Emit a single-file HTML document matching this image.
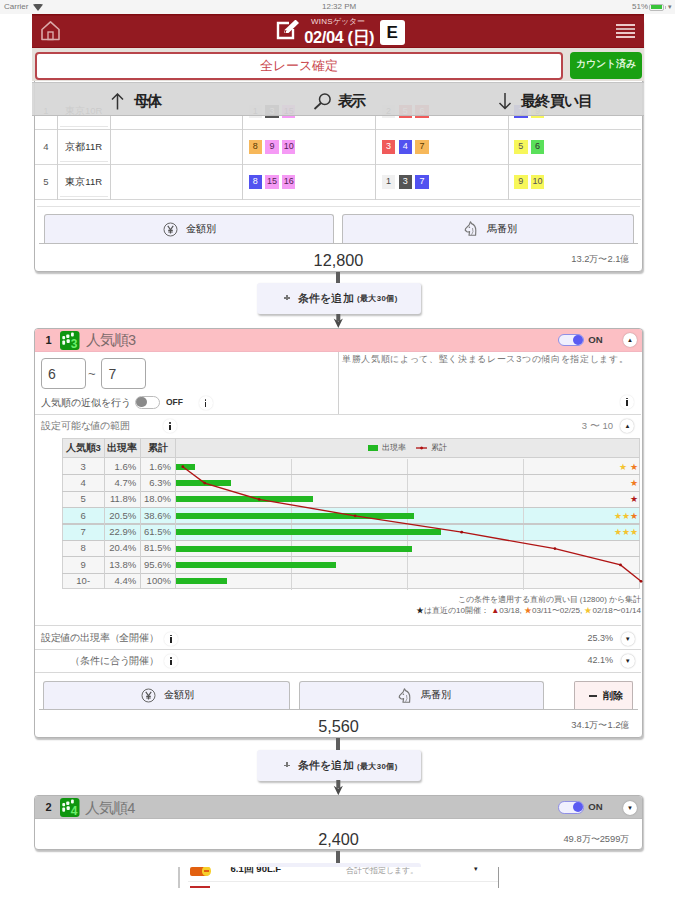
<!DOCTYPE html>
<html><head><meta charset="utf-8"><style>
*{box-sizing:border-box;margin:0;padding:0}
html,body{width:675px;height:900px;overflow:hidden;background:#fff;font-family:"Liberation Sans",sans-serif;color:#333}
.a{position:absolute}
#status{left:0;top:0;width:675px;height:14px;background:#f5f5f5;font-size:8px;color:#777;z-index:7}
#hdr{z-index:6;left:32px;top:13.8px;width:612px;height:33.9px;background:#931a21;box-shadow:inset 0 1.5px 0 #7f0b10, inset 0 -1px 0 #880f16}
#sub{z-index:6;left:32px;top:47.7px;width:612px;height:33.8px;background:#e5e0db}
#tool{left:32px;top:81.5px;width:612px;height:34.2px;background:rgba(214,214,214,0.93);border-top:1.5px solid #c4c4c4;border-bottom:1px solid #bdbdbd;z-index:5}
.card{position:absolute;background:#fff;border:1px solid #b4b4b4;border-radius:4px;box-shadow:1px 1.5px 1.5px rgba(0,0,0,0.25)}
.vl{position:absolute;width:1px;background:#d8d8d8}
.hl{position:absolute;height:1px;background:#dcdcdc}
.nb{position:absolute;width:13.5px;height:13.5px;font-size:9px;line-height:13.5px;text-align:center;color:#333}
.btn{position:absolute;background:#f1f1fb;border:1px solid #bdbdbd;border-bottom:none;border-radius:3px 3px 0 0;font-size:9.5px;font-weight:bold;color:#444;text-align:center}
.conn{position:absolute;left:336.3px;width:4px;background:#5e5e5e}
.add{position:absolute;left:256.7px;width:164px;height:30.5px;background:#f2f2fb;border-radius:3px;box-shadow:1px 1.5px 2px rgba(0,0,0,0.25);font-size:12px;color:#333}
.t{position:absolute;white-space:nowrap}
.ic{position:absolute;width:14px;height:14px;border-radius:50%;background:#fff;box-shadow:0 0 1.5px rgba(0,0,0,0.35);font-size:10px;line-height:14px;text-align:center;font-weight:bold;color:#222}
</style></head><body>
<div id="root" class="a" style="left:0;top:0;width:675px;height:900px">
<div id="status" class="a">
  <div class="t" style="left:4px;top:2px;line-height:10px">Carrier</div>
  <svg class="a" style="left:33px;top:3.5px" width="10" height="7" viewBox="0 0 10 7"><path d="M0 0.5 Q5 -1 10 0.5 L5 7 Z" fill="#555"/></svg>
  <div class="t" style="left:322px;top:2px;line-height:10px">12:32 PM</div>
  <div class="t" style="left:632px;top:2px;line-height:10px">51%</div>
  <div class="a" style="left:649px;top:3.5px;width:15px;height:7px;border:1px solid #bbb;border-radius:2px;padding:0.5px"><div style="width:11px;height:4px;background:#3ac43a"></div></div>
  <div class="a" style="left:664.5px;top:5.5px;width:1.3px;height:3px;background:#bbb"></div>
  <div class="t" style="left:668px;top:2px;line-height:10px;font-size:7px">&#9662;</div>
</div>
<div class="card" style="left:34px;top:20px;width:608.5px;height:252.2px"></div>
<div class="hl" style="left:35px;top:128.80px;width:606.00px;height:1px;background:#d6d6d6"></div>
<div class="hl" style="left:35px;top:164.20px;width:606.00px;height:1px;background:#d6d6d6"></div>
<div class="hl" style="left:35px;top:199.10px;width:606.00px;height:1px;background:#d6d6d6"></div>
<div class="hl" style="left:37px;top:206.40px;width:603.00px;height:1px;background:#e2e2e2"></div>
<div class="vl" style="left:56.80px;top:115px;height:84.60px;width:1px;background:#d0d0d0"></div>
<div class="vl" style="left:109.70px;top:115px;height:84.60px;width:1px;background:#d0d0d0"></div>
<div class="vl" style="left:241.90px;top:115px;height:84.60px;width:1px;background:#d0d0d0"></div>
<div class="vl" style="left:375.10px;top:115px;height:84.60px;width:1px;background:#d0d0d0"></div>
<div class="vl" style="left:507.70px;top:115px;height:84.60px;width:1px;background:#d0d0d0"></div>
<div class="hl" style="left:60px;top:125.50px;width:48.00px;height:1px;background:#e6e6e6"></div>
<div class="hl" style="left:60px;top:160.70px;width:48.00px;height:1px;background:#e6e6e6"></div>
<div class="hl" style="left:60px;top:195.70px;width:48.00px;height:1px;background:#e6e6e6"></div>
<div class="t" style="left:35.00px;width:22px;top:105.33px;font-size:9.5px;line-height:12.35px;color:#555;text-align:center;">1</div>
<div class="t" style="left:57.20px;width:53px;top:105.33px;font-size:9.5px;line-height:12.35px;color:#333;text-align:center;">東京10R</div>
<div class="nb" style="left:248.5px;top:104.8px;background:#f0f0f0;color:#444">1</div>
<div class="nb" style="left:265.2px;top:104.8px;background:#555;color:#fff">3</div>
<div class="nb" style="left:281.9px;top:104.8px;background:#f59af5;color:#552255">15</div>
<div class="nb" style="left:381.8px;top:104.8px;background:#f0f0f0;color:#444">2</div>
<div class="nb" style="left:398.5px;top:104.8px;background:#f05a5a;color:#fff">5</div>
<div class="nb" style="left:415.2px;top:104.8px;background:#f05a5a;color:#fff">6</div>
<div class="nb" style="left:514.1px;top:104.8px;background:#5252f0;color:#fff">7</div>
<div class="nb" style="left:530.8px;top:104.8px;background:#f7f75a;color:#555">9</div>
<div class="t" style="left:35.00px;width:22px;top:140.82px;font-size:9.5px;line-height:12.35px;color:#555;text-align:center;">4</div>
<div class="t" style="left:57.20px;width:53px;top:140.82px;font-size:9.5px;line-height:12.35px;color:#333;text-align:center;">京都11R</div>
<div class="nb" style="left:248.5px;top:140.2px;background:#f7b85a;color:#5a3a00">8</div>
<div class="nb" style="left:265.2px;top:140.2px;background:#f59af5;color:#552255">9</div>
<div class="nb" style="left:281.9px;top:140.2px;background:#f59af5;color:#552255">10</div>
<div class="nb" style="left:381.8px;top:140.2px;background:#f05a5a;color:#fff">3</div>
<div class="nb" style="left:398.5px;top:140.2px;background:#5252f0;color:#fff">4</div>
<div class="nb" style="left:415.2px;top:140.2px;background:#f7b85a;color:#5a3a00">7</div>
<div class="nb" style="left:514.1px;top:140.2px;background:#f7f75a;color:#555">5</div>
<div class="nb" style="left:530.8px;top:140.2px;background:#5ae05a;color:#333">6</div>
<div class="t" style="left:35.00px;width:22px;top:175.82px;font-size:9.5px;line-height:12.35px;color:#555;text-align:center;">5</div>
<div class="t" style="left:57.20px;width:53px;top:175.82px;font-size:9.5px;line-height:12.35px;color:#333;text-align:center;">東京11R</div>
<div class="nb" style="left:248.5px;top:175.2px;background:#5252f0;color:#fff">8</div>
<div class="nb" style="left:265.2px;top:175.2px;background:#f59af5;color:#552255">15</div>
<div class="nb" style="left:281.9px;top:175.2px;background:#f59af5;color:#552255">16</div>
<div class="nb" style="left:381.8px;top:175.2px;background:#f0f0f0;color:#444">1</div>
<div class="nb" style="left:398.5px;top:175.2px;background:#555;color:#fff">3</div>
<div class="nb" style="left:415.2px;top:175.2px;background:#5252f0;color:#fff">7</div>
<div class="nb" style="left:514.1px;top:175.2px;background:#f7f75a;color:#555">9</div>
<div class="nb" style="left:530.8px;top:175.2px;background:#f7f75a;color:#555">10</div>
<div class="btn" style="left:43.5px;top:214px;width:290.0px;height:30.0px"></div>
<svg class="a" style="left:163.0px;top:221.5px" width="15" height="15" viewBox="0 0 15 15"><circle cx="7.5" cy="7.5" r="6.5" fill="none" stroke="#666" stroke-width="1"/><path d="M4.8 3.8 L7.5 7.8 L10.2 3.8 M7.5 7.8 V11.6 M5.2 8.3 H9.8 M5.2 10 H9.8" fill="none" stroke="#555" stroke-width="1.2"/></svg>
<div class="t" style="left:186.2px;top:222.63px;font-size:9.8px;line-height:12.74px;color:#222;">金額別</div>
<div class="btn" style="left:342px;top:214px;width:291.5px;height:30.0px"></div>
<svg class="a" style="left:463.75px;top:221.4px" width="13" height="15" viewBox="0 0 13 15"><path d="M6.5 0.8 L7.6 2.6 Q11.8 4.2 11.8 9.5 L11.6 14.2 L5 14.2 L5.6 10.6 Q4.5 11.2 3 10.8 L1.2 9.2 L1.6 7.6 L5.2 3.8 Z" fill="none" stroke="#777" stroke-width="1.15" stroke-linejoin="round"/><circle cx="5.4" cy="6.2" r="0.8" fill="#777"/><path d="M7.5 13.8 Q10 11 8.5 7" fill="none" stroke="#888" stroke-width="0.8"/></svg>
<div class="t" style="left:486.55px;top:222.63px;font-size:9.8px;line-height:12.74px;color:#222;">馬番別</div>
<div class="hl" style="left:39px;top:243.10px;width:599.00px;height:1px;background:#bdbdbd"></div>
<div class="t" style="left:188.50px;width:300px;top:250.01px;font-size:16.3px;line-height:21.19px;color:#333;text-align:center;">12,800</div>
<div class="t" style="right:45.50px;top:253.49px;font-size:9.4px;line-height:12.22px;color:#666;text-align:right;">13.2万〜2.1億</div>
<div class="conn" style="top:272px;height:11.0px"></div>
<div class="add" style="top:283px"></div>
<div class="a" style="left:284.2px;top:297.4px;width:5.6px;height:1.3px;background:#777"></div>
<div class="a" style="left:286.35px;top:294.5px;width:1.3px;height:5.6px;background:#777"></div>
<div class="t" style="left:297.6px;top:290.65px;font-size:11.3px;line-height:14.69px;color:#1a1a1a;letter-spacing:0.3px;-webkit-text-stroke:0.25px #1a1a1a">条件を追加</div>
<div class="t" style="left:357px;top:294.43px;font-size:7.8px;line-height:10.14px;color:#333;font-weight:bold;letter-spacing:0.4px">(最大30個)</div>
<svg class="a" style="left:333px;top:314px" width="11" height="14.0" viewBox="0 0 11 14.0"><rect x="3.3" y="0" width="4" height="7.0" fill="#5a5a5a"/><path d="M0.7 4.5 L5.3 7.5 L9.9 4.5 L5.3 14.0 Z" fill="#4a4a4a"/></svg>
<div class="card" style="left:34px;top:327.7px;width:608.5px;height:410px"></div>
<div class="a" style="left:35px;top:328.7px;width:606.5px;height:23px;background:#fcbfc4;border-radius:3px 3px 0 0;border-bottom:1px solid #f3b6c0"></div>
<div class="t" style="left:45.5px;top:332.85px;font-size:11px;line-height:14.30px;color:#222;font-weight:bold">1</div>
<svg class="a" style="left:60.1px;top:331px" width="19.5" height="19" viewBox="0 0 19.5 19"><rect x="0" y="0" width="19.5" height="19" rx="3" fill="#0f960f"/><g fill="#f4fff4"><rect x="2.3" y="5" width="2.8" height="3.2" rx="1"/><rect x="2.3" y="9.6" width="2.8" height="4.2" rx="1"/><rect x="6.2" y="3.5" width="3.2" height="3.6" rx="1"/><rect x="6.6" y="8.3" width="3.2" height="3.8" rx="1"/><rect x="11" y="1.5" width="2.8" height="4" rx="1"/></g><text x="14.2" y="17" font-size="12" font-weight="bold" fill="#6cf06c" text-anchor="middle" font-family="Liberation Sans">3</text></svg>
<div class="t" style="left:86px;top:331.38px;font-size:14.5px;line-height:18.85px;color:#7d6a6b;letter-spacing:-1px">人気順3</div>
<div class="a" style="left:558.4px;top:333.9px;width:25.4px;height:12.4px;border-radius:6.2px;background:#f0f0fe;border:1px solid #8f8fe6"></div>
<div class="a" style="left:573.0px;top:335.1px;width:10px;height:10px;border-radius:50%;background:#5b5bf2"></div>
<div class="t" style="left:588.2px;top:333.96px;font-size:9.6px;line-height:12.48px;color:#3a3a3a;font-weight:bold">ON</div>
<div class="ic" style="left:623.0px;top:333.2px;font-size:6px">&#9650;</div>
<div class="a" style="left:40.6px;top:358.2px;width:45.7px;height:30.4px;border:1.2px solid #a8a8a8;border-radius:4px;background:#fff"></div>
<div class="a" style="left:100.6px;top:358.2px;width:45.6px;height:30.4px;border:1.2px solid #a8a8a8;border-radius:4px;background:#fff"></div>
<div class="t" style="left:48px;top:364.70px;font-size:14px;line-height:18.20px;color:#444;">6</div>
<div class="t" style="left:108.6px;top:364.70px;font-size:14px;line-height:18.20px;color:#444;">7</div>
<div class="t" style="left:88px;top:365.85px;font-size:13px;line-height:16.90px;color:#666;">~</div>
<div class="t" style="left:40.7px;top:397.06px;font-size:9.6px;line-height:12.48px;color:#555;">人気順の近似を行う</div>
<div class="a" style="left:134.8px;top:395.6px;width:25px;height:13.5px;border-radius:6.8px;background:#fff;border:1px solid #bbb"></div>
<div class="a" style="left:136.3px;top:397.2px;width:10.3px;height:10.3px;border-radius:50%;background:#8a8a8a"></div>
<div class="t" style="left:166px;top:397.28px;font-size:8.5px;line-height:11.05px;color:#333;font-weight:bold">OFF</div>
<div class="ic" style="left:198.5px;top:396.0px;box-shadow:0 0 1.5px rgba(0,0,0,0.15)"><div class="a" style="left:6.2px;top:3px;width:1.6px;height:1.6px;background:#222;border-radius:50%"></div><div class="a" style="left:6.2px;top:5.5px;width:1.6px;height:5.5px;background:#222"></div></div>
<div class="vl" style="left:338.00px;top:351.6px;height:62.60px;width:1px;background:#d0d0d0"></div>
<div class="t" style="left:342.1px;top:354.22px;font-size:9.2px;line-height:11.96px;color:#777;letter-spacing:0.67px">単勝人気順によって、堅く決まるレース3つの傾向を指定します。</div>
<div class="ic" style="left:620.3px;top:394.5px;box-shadow:0 0 1.5px rgba(0,0,0,0.15)"><div class="a" style="left:6.2px;top:3px;width:1.6px;height:1.6px;background:#222;border-radius:50%"></div><div class="a" style="left:6.2px;top:5.5px;width:1.6px;height:5.5px;background:#222"></div></div>
<div class="hl" style="left:35px;top:413.70px;width:606.00px;height:1px;background:#d8d8d8"></div>
<div class="t" style="left:41.2px;top:420.12px;font-size:9.5px;line-height:12.35px;color:#777;letter-spacing:-0.15px">設定可能な値の範囲</div>
<div class="ic" style="left:163.2px;top:419.3px;box-shadow:0 0 1.5px rgba(0,0,0,0.15)"><div class="a" style="left:6.2px;top:3px;width:1.6px;height:1.6px;background:#222;border-radius:50%"></div><div class="a" style="left:6.2px;top:5.5px;width:1.6px;height:5.5px;background:#222"></div></div>
<div class="t" style="right:62.00px;top:419.62px;font-size:9.5px;line-height:12.35px;color:#888;text-align:right;">3 〜 10</div>
<div class="ic" style="left:620.4px;top:418.8px;font-size:6px">&#9650;</div>
<div class="a" style="left:62.3px;top:437.7px;width:577.7px;height:151.8px;background:#f6f6f6;border:1px solid #d2d2d2"></div>
<div class="a" style="left:62.3px;top:437.7px;width:577.7px;height:20.8px;background:#e9e9e9;border:1px solid #d2d2d2;border-bottom:1.5px solid #cfcfcf"></div>
<div class="a" style="left:63.3px;top:507.62px;width:575.7px;height:16.38px;background:#d9f9f9"></div>
<div class="a" style="left:63.3px;top:524.00px;width:575.7px;height:16.38px;background:#d9f9f9"></div>
<div class="vl" style="left:291.00px;top:458.5px;height:131.00px;width:1px;background:#d6d6d6"></div>
<div class="vl" style="left:407.40px;top:458.5px;height:131.00px;width:1px;background:#d6d6d6"></div>
<div class="vl" style="left:523.40px;top:458.5px;height:131.00px;width:1px;background:#d6d6d6"></div>
<div class="t" style="left:63.20px;width:40px;top:460.51px;font-size:9.5px;line-height:12.35px;color:#666;text-align:center;">3</div>
<div class="t" style="right:538.80px;top:460.51px;font-size:9.5px;line-height:12.35px;color:#666;text-align:right;">1.6%</div>
<div class="t" style="right:504.10px;top:460.51px;font-size:9.5px;line-height:12.35px;color:#666;text-align:right;">1.6%</div>
<div class="a" style="left:176.4px;top:463.69px;width:18.5px;height:6px;background:#22b822"></div>
<div class="hl" style="left:62.3px;top:474.27px;width:577.70px;height:1.2px;background:#c9c9c9"></div>
<div class="t" style="left:63.20px;width:40px;top:476.89px;font-size:9.5px;line-height:12.35px;color:#666;text-align:center;">4</div>
<div class="t" style="right:538.80px;top:476.89px;font-size:9.5px;line-height:12.35px;color:#666;text-align:right;">4.7%</div>
<div class="t" style="right:504.10px;top:476.89px;font-size:9.5px;line-height:12.35px;color:#666;text-align:right;">6.3%</div>
<div class="a" style="left:176.4px;top:480.06px;width:54.4px;height:6px;background:#22b822"></div>
<div class="hl" style="left:62.3px;top:490.65px;width:577.70px;height:1.2px;background:#c9c9c9"></div>
<div class="t" style="left:63.20px;width:40px;top:493.26px;font-size:9.5px;line-height:12.35px;color:#666;text-align:center;">5</div>
<div class="t" style="right:538.80px;top:493.26px;font-size:9.5px;line-height:12.35px;color:#666;text-align:right;">11.8%</div>
<div class="t" style="right:504.10px;top:493.26px;font-size:9.5px;line-height:12.35px;color:#666;text-align:right;">18.0%</div>
<div class="a" style="left:176.4px;top:496.44px;width:136.5px;height:6px;background:#22b822"></div>
<div class="hl" style="left:62.3px;top:507.02px;width:577.70px;height:1.2px;background:#c9c9c9"></div>
<div class="t" style="left:63.20px;width:40px;top:509.64px;font-size:9.5px;line-height:12.35px;color:#666;text-align:center;">6</div>
<div class="t" style="right:538.80px;top:509.64px;font-size:9.5px;line-height:12.35px;color:#666;text-align:right;">20.5%</div>
<div class="t" style="right:504.10px;top:509.64px;font-size:9.5px;line-height:12.35px;color:#666;text-align:right;">38.6%</div>
<div class="a" style="left:176.4px;top:512.81px;width:237.2px;height:6px;background:#22b822"></div>
<div class="hl" style="left:62.3px;top:523.40px;width:577.70px;height:1.2px;background:#c9c9c9"></div>
<div class="t" style="left:63.20px;width:40px;top:526.01px;font-size:9.5px;line-height:12.35px;color:#666;text-align:center;">7</div>
<div class="t" style="right:538.80px;top:526.01px;font-size:9.5px;line-height:12.35px;color:#666;text-align:right;">22.9%</div>
<div class="t" style="right:504.10px;top:526.01px;font-size:9.5px;line-height:12.35px;color:#666;text-align:right;">61.5%</div>
<div class="a" style="left:176.4px;top:529.19px;width:265.0px;height:6px;background:#22b822"></div>
<div class="hl" style="left:62.3px;top:539.77px;width:577.70px;height:1.2px;background:#c9c9c9"></div>
<div class="t" style="left:63.20px;width:40px;top:542.39px;font-size:9.5px;line-height:12.35px;color:#666;text-align:center;">8</div>
<div class="t" style="right:538.80px;top:542.39px;font-size:9.5px;line-height:12.35px;color:#666;text-align:right;">20.4%</div>
<div class="t" style="right:504.10px;top:542.39px;font-size:9.5px;line-height:12.35px;color:#666;text-align:right;">81.5%</div>
<div class="a" style="left:176.4px;top:545.56px;width:236.0px;height:6px;background:#22b822"></div>
<div class="hl" style="left:62.3px;top:556.15px;width:577.70px;height:1.2px;background:#c9c9c9"></div>
<div class="t" style="left:63.20px;width:40px;top:558.76px;font-size:9.5px;line-height:12.35px;color:#666;text-align:center;">9</div>
<div class="t" style="right:538.80px;top:558.76px;font-size:9.5px;line-height:12.35px;color:#666;text-align:right;">13.8%</div>
<div class="t" style="right:504.10px;top:558.76px;font-size:9.5px;line-height:12.35px;color:#666;text-align:right;">95.6%</div>
<div class="a" style="left:176.4px;top:561.94px;width:159.7px;height:6px;background:#22b822"></div>
<div class="hl" style="left:62.3px;top:572.52px;width:577.70px;height:1.2px;background:#c9c9c9"></div>
<div class="t" style="left:63.20px;width:40px;top:575.14px;font-size:9.5px;line-height:12.35px;color:#666;text-align:center;">10-</div>
<div class="t" style="right:538.80px;top:575.14px;font-size:9.5px;line-height:12.35px;color:#666;text-align:right;">4.4%</div>
<div class="t" style="right:504.10px;top:575.14px;font-size:9.5px;line-height:12.35px;color:#666;text-align:right;">100%</div>
<div class="a" style="left:176.4px;top:578.31px;width:50.9px;height:6px;background:#22b822"></div>
<div class="vl" style="left:103.60px;top:437.7px;height:151.80px;width:1px;background:#d0d0d0"></div>
<div class="vl" style="left:140.20px;top:437.7px;height:151.80px;width:1px;background:#d0d0d0"></div>
<div class="vl" style="left:174.90px;top:437.7px;height:151.80px;width:1px;background:#d0d0d0"></div>
<div class="t" style="left:62.20px;width:42px;top:441.82px;font-size:9.5px;line-height:12.35px;color:#333;text-align:center;font-weight:bold">人気順3</div>
<div class="t" style="left:102.40px;width:40px;top:441.82px;font-size:9.5px;line-height:12.35px;color:#333;text-align:center;font-weight:bold">出現率</div>
<div class="t" style="left:138.05px;width:40px;top:441.82px;font-size:9.5px;line-height:12.35px;color:#333;text-align:center;font-weight:bold">累計</div>
<div class="a" style="left:367.8px;top:445.4px;width:10.7px;height:5.4px;background:#22b822"></div>
<div class="t" style="left:381.9px;top:442.97px;font-size:8.2px;line-height:10.66px;color:#555;">出現率</div>
<svg class="a" style="left:416.3px;top:445px" width="11.2" height="6" viewBox="0 0 11.2 6"><path d="M0 3 H11.2" stroke="#b01010" stroke-width="1.3"/><circle cx="5.6" cy="3" r="1.5" fill="#b01010"/></svg>
<div class="t" style="left:431.1px;top:442.97px;font-size:8.2px;line-height:10.66px;color:#555;">累計</div>
<svg class="a" style="left:0;top:0;z-index:1" width="675" height="900"><path d="M182.8 466.7 L204.7 483.1 L259.2 499.4 L355.1 515.8 L461.7 532.2 L554.9 548.6 L620.5 564.9 L641.0 581.3" fill="none" stroke="#b01414" stroke-width="1.35"/><circle cx="182.8" cy="466.7" r="1.4" fill="#a00c0c"/><circle cx="204.7" cy="483.1" r="1.4" fill="#a00c0c"/><circle cx="259.2" cy="499.4" r="1.4" fill="#a00c0c"/><circle cx="355.1" cy="515.8" r="1.4" fill="#a00c0c"/><circle cx="461.7" cy="532.2" r="1.4" fill="#a00c0c"/><circle cx="554.9" cy="548.6" r="1.4" fill="#a00c0c"/><circle cx="620.5" cy="564.9" r="1.4" fill="#a00c0c"/><circle cx="641.0" cy="581.3" r="1.4" fill="#a00c0c"/></svg>
<div class="t" style="left:619.0px;top:461.7px;font-size:8.5px;line-height:10px;color:#f4c430">&#9733;</div>
<div class="t" style="left:629.5px;top:461.7px;font-size:8.5px;line-height:10px;color:#f07a20">&#9733;</div>
<div class="t" style="left:629.5px;top:478.1px;font-size:8.5px;line-height:10px;color:#f07a20">&#9733;</div>
<div class="t" style="left:629.5px;top:494.4px;font-size:8.5px;line-height:10px;color:#b01818">&#9733;</div>
<div class="t" style="left:613.6px;top:510.8px;font-size:8.5px;line-height:10px;color:#f4c430">&#9733;</div>
<div class="t" style="left:621.6px;top:510.8px;font-size:8.5px;line-height:10px;color:#f4c430">&#9733;</div>
<div class="t" style="left:629.5px;top:510.8px;font-size:8.5px;line-height:10px;color:#f07a20">&#9733;</div>
<div class="t" style="left:613.6px;top:527.2px;font-size:8.5px;line-height:10px;color:#f4c430">&#9733;</div>
<div class="t" style="left:621.6px;top:527.2px;font-size:8.5px;line-height:10px;color:#f4c430">&#9733;</div>
<div class="t" style="left:629.5px;top:527.2px;font-size:8.5px;line-height:10px;color:#f4c430">&#9733;</div>
<div class="t" style="right:34.00px;top:594.70px;font-size:7.85px;line-height:10.21px;color:#666;text-align:right;">この条件を適用する直前の買い目 (12800) から集計</div>
<div class="t" style="right:34.00px;top:605.74px;font-size:8.1px;line-height:10.53px;color:#666;text-align:right;"><span style="color:#222">&#9733;</span>は直近の10開催： <span style="color:#b01818">&#9650;</span>03/18, <span style="color:#f07a20">&#9733;</span>03/11〜02/25, <span style="color:#f4c430">&#9733;</span>02/18〜01/14</div>
<div class="hl" style="left:35px;top:625.10px;width:606.00px;height:1px;background:#d8d8d8"></div>
<div class="t" style="left:40.7px;top:632.43px;font-size:9.5px;line-height:12.35px;color:#666;letter-spacing:-0.15px">設定値の出現率（全開催）</div>
<div class="ic" style="left:164.0px;top:631.6px;box-shadow:0 0 1.5px rgba(0,0,0,0.15)"><div class="a" style="left:6.2px;top:3px;width:1.6px;height:1.6px;background:#222;border-radius:50%"></div><div class="a" style="left:6.2px;top:5.5px;width:1.6px;height:5.5px;background:#222"></div></div>
<div class="t" style="right:62.00px;top:632.95px;font-size:9px;line-height:11.70px;color:#666;text-align:right;">25.3%</div>
<div class="ic" style="left:620.8px;top:631.8px;font-size:6px">&#9660;</div>
<div class="hl" style="left:35px;top:648.80px;width:606.00px;height:1px;background:#d8d8d8"></div>
<div class="t" style="right:516.00px;top:654.93px;font-size:9.5px;line-height:12.35px;color:#666;text-align:right;letter-spacing:-0.15px">（条件に合う開催）</div>
<div class="ic" style="left:164.0px;top:654.1px;box-shadow:0 0 1.5px rgba(0,0,0,0.15)"><div class="a" style="left:6.2px;top:3px;width:1.6px;height:1.6px;background:#222;border-radius:50%"></div><div class="a" style="left:6.2px;top:5.5px;width:1.6px;height:5.5px;background:#222"></div></div>
<div class="t" style="right:62.00px;top:655.35px;font-size:9px;line-height:11.70px;color:#666;text-align:right;">42.1%</div>
<div class="ic" style="left:620.8px;top:654.2px;font-size:6px">&#9660;</div>
<div class="hl" style="left:35px;top:672.00px;width:606.00px;height:1px;background:#d8d8d8"></div>
<div class="btn" style="left:43.3px;top:681.3px;width:246.5px;height:28.9px"></div>
<svg class="a" style="left:141.05px;top:688.25px" width="15" height="15" viewBox="0 0 15 15"><circle cx="7.5" cy="7.5" r="6.5" fill="none" stroke="#666" stroke-width="1"/><path d="M4.8 3.8 L7.5 7.8 L10.2 3.8 M7.5 7.8 V11.6 M5.2 8.3 H9.8 M5.2 10 H9.8" fill="none" stroke="#555" stroke-width="1.2"/></svg>
<div class="t" style="left:164.25px;top:689.38px;font-size:9.8px;line-height:12.74px;color:#222;">金額別</div>
<div class="btn" style="left:299.3px;top:681.3px;width:245.0px;height:28.9px"></div>
<svg class="a" style="left:397.79999999999995px;top:688.15px" width="13" height="15" viewBox="0 0 13 15"><path d="M6.5 0.8 L7.6 2.6 Q11.8 4.2 11.8 9.5 L11.6 14.2 L5 14.2 L5.6 10.6 Q4.5 11.2 3 10.8 L1.2 9.2 L1.6 7.6 L5.2 3.8 Z" fill="none" stroke="#777" stroke-width="1.15" stroke-linejoin="round"/><circle cx="5.4" cy="6.2" r="0.8" fill="#777"/><path d="M7.5 13.8 Q10 11 8.5 7" fill="none" stroke="#888" stroke-width="0.8"/></svg>
<div class="t" style="left:420.59999999999997px;top:689.38px;font-size:9.8px;line-height:12.74px;color:#222;">馬番別</div>
<div class="btn" style="left:574.2px;top:681.3px;width:59.3px;height:28.9px;background:#fdf1f1;border-color:#bdb3b3;border-radius:2px 2px 0 0"></div>
<div class="a" style="left:588.9px;top:695.0px;width:8px;height:1.6px;background:#333"></div>
<div class="t" style="left:602.85px;top:689.51px;font-size:9.6px;line-height:12.48px;color:#222;font-weight:bold">削除</div>
<div class="hl" style="left:39px;top:709.30px;width:599.00px;height:1px;background:#bdbdbd"></div>
<div class="t" style="left:188.50px;width:300px;top:715.50px;font-size:16.3px;line-height:21.19px;color:#333;text-align:center;">5,560</div>
<div class="t" style="right:45.50px;top:719.39px;font-size:9.4px;line-height:12.22px;color:#666;text-align:right;">34.1万〜1.2億</div>
<div class="conn" style="top:737.7px;height:12.6px"></div>
<div class="add" style="top:750.2px"></div>
<div class="a" style="left:284.2px;top:764.6px;width:5.6px;height:1.3px;background:#777"></div>
<div class="a" style="left:286.35px;top:761.7px;width:1.3px;height:5.6px;background:#777"></div>
<div class="t" style="left:297.6px;top:757.86px;font-size:11.3px;line-height:14.69px;color:#1a1a1a;letter-spacing:0.3px;-webkit-text-stroke:0.25px #1a1a1a">条件を追加</div>
<div class="t" style="left:357px;top:761.63px;font-size:7.8px;line-height:10.14px;color:#333;font-weight:bold;letter-spacing:0.4px">(最大30個)</div>
<svg class="a" style="left:333px;top:780.3px" width="11" height="15.3" viewBox="0 0 11 15.3"><rect x="3.3" y="0" width="4" height="8.3" fill="#5a5a5a"/><path d="M0.7 5.8 L5.3 8.8 L9.9 5.8 L5.3 15.3 Z" fill="#4a4a4a"/></svg>
<div class="card" style="left:34px;top:795.4px;width:608.5px;height:55px"></div>
<div class="a" style="left:35px;top:796.4px;width:606.5px;height:22.4px;background:#c4c4c4;border-radius:3px 3px 0 0;border-bottom:1px solid #b9b9b9"></div>
<div class="t" style="left:45.5px;top:800.35px;font-size:11px;line-height:14.30px;color:#222;font-weight:bold">2</div>
<svg class="a" style="left:60px;top:797.6px" width="19.5" height="19" viewBox="0 0 19.5 19"><rect x="0" y="0" width="19.5" height="19" rx="3" fill="#0f960f"/><g fill="#f4fff4"><rect x="2.3" y="5" width="2.8" height="3.2" rx="1"/><rect x="2.3" y="9.6" width="2.8" height="4.2" rx="1"/><rect x="6.2" y="3.5" width="3.2" height="3.6" rx="1"/><rect x="6.6" y="8.3" width="3.2" height="3.8" rx="1"/><rect x="11" y="1.5" width="2.8" height="4" rx="1"/></g><text x="14.2" y="17" font-size="12" font-weight="bold" fill="#6cf06c" text-anchor="middle" font-family="Liberation Sans">4</text></svg>
<div class="t" style="left:85.2px;top:798.88px;font-size:14.5px;line-height:18.85px;color:#777;letter-spacing:-1px">人気順4</div>
<div class="a" style="left:558.4px;top:801.2px;width:25.4px;height:12.4px;border-radius:6.2px;background:#f0f0fe;border:1px solid #8f8fe6"></div>
<div class="a" style="left:573.0px;top:802.4px;width:10px;height:10px;border-radius:50%;background:#5b5bf2"></div>
<div class="t" style="left:588.2px;top:801.26px;font-size:9.6px;line-height:12.48px;color:#3a3a3a;font-weight:bold">ON</div>
<div class="ic" style="left:623.0px;top:800.5px;font-size:6px">&#9660;</div>
<div class="t" style="left:188.50px;width:300px;top:829.00px;font-size:16.3px;line-height:21.19px;color:#333;text-align:center;">2,400</div>
<div class="t" style="right:45.50px;top:832.89px;font-size:9.4px;line-height:12.22px;color:#666;text-align:right;">49.8万〜2599万</div>
<div class="conn" style="top:850.5px;height:12.0px"></div>
<div class="a" style="left:256.7px;top:862.5px;width:164px;height:6px;background:#f0f0fa;border-radius:3px 3px 0 0"></div>
<div class="a" style="left:170px;top:866.8px;width:340px;height:34px;background:#fff;overflow:hidden"><div class="a" style="left:8.4px;top:0;width:1.4px;height:21px;background:#c8c8c8"></div><div class="a" style="left:327.8px;top:0;width:1.4px;height:21px;background:#9a9a9a"></div><div class="a" style="left:19.6px;top:0.6px;width:18px;height:8.3px;background:#e2600f;border-radius:2px"></div><div class="a" style="left:31.5px;top:-0.5px;width:9.5px;height:9.5px;background:#f7cf2a;border-radius:50%"></div><div class="a" style="left:33.5px;top:3.5px;width:5px;height:1.6px;background:#e2600f"></div><div class="a" style="left:20px;top:19.2px;width:20px;height:2.2px;background:#c02828"></div><div class="a" style="left:18px;top:14.6px;width:310px;height:1px;background:#ececec"></div><div class="t" style="left:60.5px;top:-3.5px;font-size:9.5px;line-height:12px;font-weight:bold;color:#222">6.1回 90L.F</div><div class="t" style="left:176px;top:-1.8px;font-size:8.3px;line-height:11px;color:#999">合計で指定します。</div><div class="t" style="left:304px;top:-3px;font-size:7px;line-height:9px;color:#222">&#9662;</div></div>
<div id="hdr" class="a">
  <svg class="a" style="left:7.6px;top:6.3px" width="21" height="21" viewBox="0 0 21 21"><path d="M2 9.5 L10.5 1.8 L19 9.5 V19.5 H2 Z" fill="none" stroke="#dcaaaa" stroke-width="1.6" stroke-linejoin="round"/><rect x="8" y="12" width="5" height="7.5" fill="none" stroke="#dcaaaa" stroke-width="1.4"/></svg>
  <svg class="a" style="left:244px;top:6.5px" width="25" height="20" viewBox="0 0 25 20"><path d="M13 3 H2 V18 H17 V9" fill="none" stroke="#fff" stroke-width="2.4"/><path d="M8 13 L9 9.5 L19.5 -0.5 L23 3 L12.5 13 Z" fill="#fff"/><path d="M9 13 L10 10" stroke="#981b20" stroke-width="1"/></svg>
  <div class="t" style="left:279px;top:3px;font-size:8px;line-height:10px;color:#f4dcdc;letter-spacing:0.2px">WINSゲッター</div>
  <div class="t" style="left:272.3px;top:13.5px;font-size:16.5px;line-height:20px;font-weight:bold;color:#fff;letter-spacing:-0.45px">02/04 (日)</div>
  <div class="a" style="left:347.7px;top:6px;width:25px;height:25px;background:#fff;border-radius:3px;font-size:17px;font-weight:bold;line-height:25px;text-align:center;color:#111">E</div>
  <div class="a" style="left:584px;top:10px;width:19px;height:2px;background:#ecc9c9"></div>
  <div class="a" style="left:584px;top:14px;width:19px;height:2px;background:#d9b3b3"></div>
  <div class="a" style="left:584px;top:18.5px;width:19px;height:2px;background:#ecc9c9"></div>
  <div class="a" style="left:584px;top:22.7px;width:19px;height:2px;background:#ecc9c9"></div>
</div>
<div id="sub" class="a">
  <div class="a" style="left:2.8px;top:4.2px;width:528px;height:27.8px;background:#fff;border:2px solid #b8454b;border-radius:4px;font-size:12.5px;line-height:24px;text-align:center;color:#c9474d">全レース確定</div>
  <div class="a" style="left:538px;top:4px;width:71.5px;height:27.5px;background:#19a012;border-radius:4px;font-size:9.5px;line-height:23.5px;text-align:center;color:#dff5da;font-weight:bold">カウント済み</div>
</div>
<div id="tool" class="a">
  <svg class="a" style="left:79px;top:10px" width="13" height="17" viewBox="0 0 13 17"><path d="M6.5 1 V16.5 M1 6.5 L6.5 1 L12 6.5" fill="none" stroke="#333" stroke-width="1.5"/></svg>
  <div class="t" style="left:101.5px;top:9px;font-size:15px;line-height:18px;font-weight:bold;color:#222;letter-spacing:-1.6px">母体</div>
  <svg class="a" style="left:281px;top:10px" width="19" height="17" viewBox="0 0 19 17"><circle cx="11.8" cy="6.3" r="5.3" fill="none" stroke="#333" stroke-width="1.5"/><path d="M8 10 L1.5 16" stroke="#333" stroke-width="1.8"/></svg>
  <div class="t" style="left:305.5px;top:9px;font-size:15px;line-height:18px;font-weight:bold;color:#222;letter-spacing:-1.2px">表示</div>
  <svg class="a" style="left:465.5px;top:10px" width="14" height="17" viewBox="0 0 14 17"><path d="M7 0 V15.5 M1.5 10 L7 15.5 L12.5 10" fill="none" stroke="#333" stroke-width="1.5"/></svg>
  <div class="t" style="left:489px;top:9px;font-size:14.5px;line-height:18px;font-weight:bold;color:#222;letter-spacing:-0.7px">最終買い目</div>
</div>
</div>
</body></html>
